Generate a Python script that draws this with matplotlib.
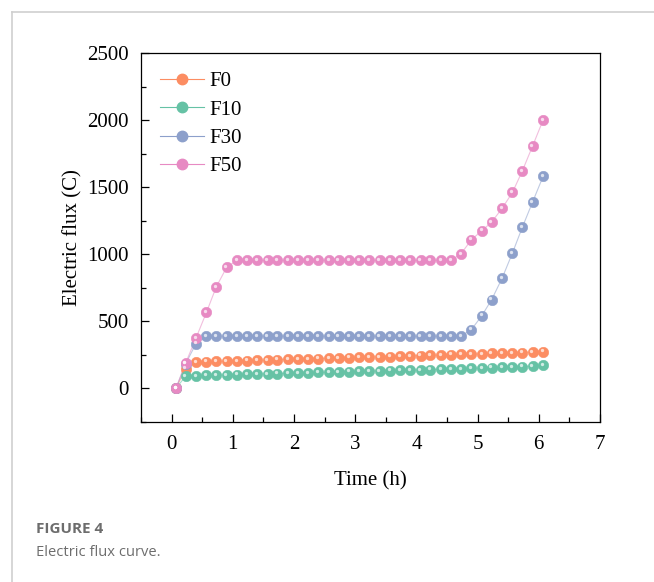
import matplotlib
matplotlib.use("Agg")
import matplotlib.pyplot as plt
from matplotlib.lines import Line2D
from matplotlib.transforms import offset_copy
from matplotlib.ticker import MultipleLocator

# sampling times (h), one reading every 10 min
time_h = [0.07, 0.23, 0.40, 0.57, 0.73, 0.90, 1.07, 1.23, 1.40, 1.57, 1.73, 1.90,
          2.07, 2.23, 2.40, 2.57, 2.73, 2.90, 3.07, 3.23, 3.40, 3.57, 3.73, 3.90,
          4.07, 4.23, 4.40, 4.57, 4.73, 4.90, 5.07, 5.23, 5.40, 5.57, 5.73, 5.90, 6.07]

f0 = [0, 148, 198, 200, 202, 204, 206, 208, 210, 212, 215, 217, 219, 221, 223, 225,
      228, 230, 232, 234, 236, 238, 241, 243, 245, 247, 249, 252, 254, 256, 258,
      261, 263, 265, 268, 271, 275]
f10 = [0, 92, 95, 97, 99, 101, 103, 105, 107, 109, 111, 113, 115, 117, 119, 121,
       123, 125, 127, 129, 131, 133, 135, 137, 139, 141, 143, 145, 147, 150, 152,
       155, 157, 160, 163, 167, 172]
f30 = [0, 185, 335, 390, 390, 390, 390, 390, 390, 390, 390, 390, 390, 390, 390, 390,
       390, 390, 390, 390, 390, 390, 390, 390, 390, 390, 390, 390, 390, 439, 543,
       662, 821, 1010, 1200, 1391, 1580]
f50 = [0, 190, 377, 568, 757, 903, 955, 955, 955, 955, 955, 955, 955, 955, 955, 955,
       955, 955, 955, 955, 955, 955, 955, 955, 955, 955, 955, 955, 1004, 1109, 1176,
       1240, 1342, 1461, 1620, 1808, 2000]

SERIES = [
    ("F0", f0, "#FC8D62"),
    ("F10", f10, "#66C2A5"),
    ("F30", f30, "#8DA0CB"),
    ("F50", f50, "#E78AC3"),
]

plt.rcParams["font.family"] = ["Liberation Serif", "DejaVu Serif"]

fig = plt.figure(figsize=(6.54, 5.82), dpi=100)
ax = fig.add_axes([0.2156, 0.2749, 0.7018, 0.634])

# little highlight on each ball, nudged up-left
shine = offset_copy(ax.transData, fig=fig, x=-1.2, y=1.2, units="dots")

handles = []
for name, vals, color in SERIES:
    ax.plot(time_h, vals, color=color, lw=0.8, alpha=0.55, zorder=2)
    ax.plot(time_h, vals, ls="none", marker="o", ms=7.5, mfc=color,
            mec=color, mew=0.4, zorder=3)
    ax.plot(time_h, vals, ls="none", marker="o", ms=2.4, mfc="white",
            mec="none", alpha=0.7, transform=shine, zorder=4)
    handles.append(Line2D([], [], color=color, lw=0.8, marker="o", ms=7.5,
                          mfc=color, mec=color, label=name))

ax.set_xlim(-0.5, 7)
ax.set_ylim(-250, 2500)
ax.xaxis.set_major_locator(MultipleLocator(1))
ax.xaxis.set_minor_locator(MultipleLocator(0.5))
ax.yaxis.set_major_locator(MultipleLocator(500))
ax.yaxis.set_minor_locator(MultipleLocator(250))
ax.tick_params(which="both", direction="in", top=False, right=False,
               labelsize=15, width=0.9)
ax.tick_params(which="major", length=6, pad=9)
ax.tick_params(which="minor", length=3.5)
for sp in ax.spines.values():
    sp.set_linewidth(0.9)

ax.set_xlabel("Time (h)", fontsize=15, labelpad=13)
ax.set_ylabel("Electric flux (C)", fontsize=15, labelpad=3)

leg = ax.legend(handles=handles, loc="upper left", frameon=False, fontsize=15,
                handlelength=2.1, handletextpad=0.3, labelspacing=0.42,
                borderaxespad=0.5, bbox_to_anchor=(0.0, 1.0))
for h in leg.legend_handles:
    h.set_alpha(1)

# card border and caption
fig.add_artist(Line2D([12 / 654, 1], [1 - 12 / 582] * 2, transform=fig.transFigure,
                      color="#cfcfcf", lw=1.2))
fig.add_artist(Line2D([12 / 654] * 2, [0, 1 - 12 / 582], transform=fig.transFigure,
                      color="#cfcfcf", lw=1.2))
fig.text(36 / 654, 1 - 529 / 582, "FIGURE 4", family="Open Sans", weight="bold",
         fontsize=11, color="#6d6d6d", va="center", ha="left")
fig.text(36 / 654, 1 - 552 / 582, "Electric flux curve.", family="Open Sans",
         fontsize=10.6, color="#6d6d6d", va="center", ha="left")

fig.savefig("out.png", dpi=100)
